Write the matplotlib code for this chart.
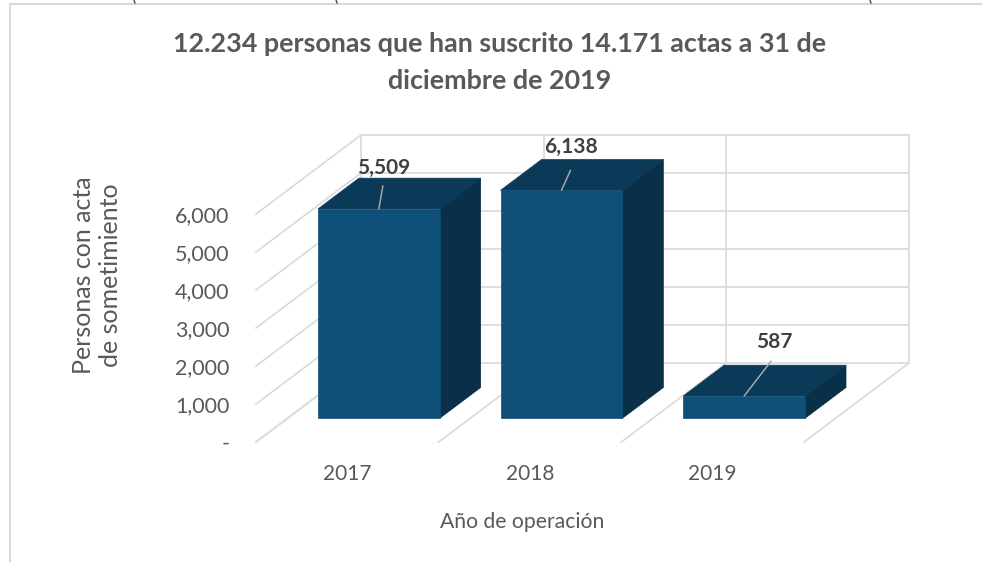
"""3D-look column chart of signed acts per year, drawn on a 2D axes."""
import matplotlib
matplotlib.use("Agg")
import matplotlib.pyplot as plt
from matplotlib.patches import Polygon

years = ["2017", "2018", "2019"]
personas = [5509, 6138, 587]
value_labels = ["5,509", "6,138", "587"]
y_ticks = [0, 1000, 2000, 3000, 4000, 5000, 6000]
y_tick_labels = ["-", "1,000", "2,000", "3,000", "4,000", "5,000", "6,000"]
title = "12.234 personas que han suscrito 14.171 actas a 31 de\ndiciembre de 2019"
y_title = "Personas con acta\nde sometimiento"
x_title = "Año de operación"

W, H = 982, 562
Y_MAX = 6000
GRID = "#dcdcdc"
FRONT, TOP, SIDE = "#0f5078", "#0b3a58", "#0a2f48"
TEXT = "#595959"
FONT = "Lato"

# one unit of depth, in data units (105 px right, 79 px up on the picture)
DEPTH_X = 105 / (548 / 3)
DEPTH_Y = 79 / (228 / Y_MAX)
BAR_WIDTH = 2 / 3
DEPTH_NEAR, DEPTH_FAR = 0.30, 0.69


def proj(x, v, d):
    return x + d * DEPTH_X, v + d * DEPTH_Y


fig = plt.figure(figsize=(W / 100, H / 100), dpi=100, facecolor="white")
ax = fig.add_axes([256 / W, (H - 442) / H, 548 / W, 228 / H])
ax.set_xlim(0, 3)
ax.set_ylim(0, Y_MAX)
ax.patch.set_visible(False)
for sp in ax.spines.values():
    sp.set_visible(False)

# walls and floor
for v in y_ticks:
    ax.plot(*zip(proj(0, v, 0), proj(0, v, 1)), color=GRID, lw=1.3, clip_on=False, zorder=1)
    ax.plot(*zip(proj(0, v, 1), proj(3, v, 1)), color=GRID, lw=1.3, clip_on=False, zorder=1)
for x in range(4):
    ax.plot(*zip(proj(x, 0, 1), proj(x, Y_MAX, 1)), color=GRID, lw=1.3, clip_on=False, zorder=1)
    ax.plot(*zip(proj(x, 0, 0), proj(x, 0, 1)), color=GRID, lw=1.3, clip_on=False, zorder=1)

# label offsets in pixels from the middle of the front top edge
label_offsets = [(5, 41), (10, 43), (30, 54)]
line_ends = [(4, 23), (9, 20), (27, 35)]

for i, val in enumerate(personas):
    h = min(val, Y_MAX)  # the axis stops at 6,000 so 2018 is cut off
    x0 = i + (1 - BAR_WIDTH) / 2
    x1 = x0 + BAR_WIDTH
    n, f = DEPTH_NEAR, DEPTH_FAR
    faces = [
        ([proj(x1, 0, n), proj(x1, 0, f), proj(x1, h, f), proj(x1, h, n)], SIDE),
        ([proj(x0, h, n), proj(x1, h, n), proj(x1, h, f), proj(x0, h, f)], TOP),
        ([proj(x0, 0, n), proj(x1, 0, n), proj(x1, h, n), proj(x0, h, n)], FRONT),
    ]
    for pts, col in faces:
        ax.add_patch(Polygon(pts, closed=True, facecolor=col, edgecolor=col,
                             lw=0.5, clip_on=False, zorder=3))
    anchor = proj((x0 + x1) / 2, h, n)
    ax.annotate("", xy=anchor, xytext=line_ends[i], textcoords="offset pixels",
                annotation_clip=False,
                arrowprops=dict(arrowstyle="-", color="#a6a6a6", lw=1.1,
                                shrinkA=0, shrinkB=0), zorder=4)
    ax.annotate(value_labels[i], xy=anchor, xytext=label_offsets[i],
                textcoords="offset pixels", ha="center", va="center",
                annotation_clip=False,
                family=FONT, fontsize=15, fontweight="bold", color="#404040", zorder=5)

ax.set_yticks(y_ticks)
ax.set_yticklabels(y_tick_labels, family=FONT, fontsize=15.5, color=TEXT)
ax.set_xticks([0.5, 1.5, 2.5])
ax.set_xticklabels(years, family=FONT, fontsize=15, color=TEXT)
ax.tick_params(axis="y", length=0, pad=19)
ax.tick_params(axis="x", length=0, pad=16)

fig.text(500 / W, 1 - 62.5 / H, title, ha="center", va="center", family=FONT,
         fontsize=19.4, fontweight="bold", color=TEXT, linespacing=1.65)
fig.text(522 / W, 1 - 522 / H, x_title, ha="center", va="center", family=FONT,
         fontsize=15.2, color=TEXT)
fig.text(97 / W, 1 - 275 / H, y_title, ha="center", va="center", rotation=90,
         multialignment="center", family=FONT, fontsize=18, color=TEXT, linespacing=1.2)

# chart frame, and the tails of the cut-off line of text above it
fig.add_artist(plt.Line2D([10 / W, 1], [1 - 4 / H, 1 - 4 / H], color="#d9d9d9", lw=1.5))
fig.add_artist(plt.Line2D([10 / W, 10 / W], [0, 1 - 4 / H], color="#d9d9d9", lw=1.5))
for px in [134, 336, 870]:
    fig.add_artist(plt.Line2D([px / W, (px + 1) / W], [1, 1 - 3 / H], color="#2f4b7c", lw=1))

fig.savefig("out.png", dpi=100)
